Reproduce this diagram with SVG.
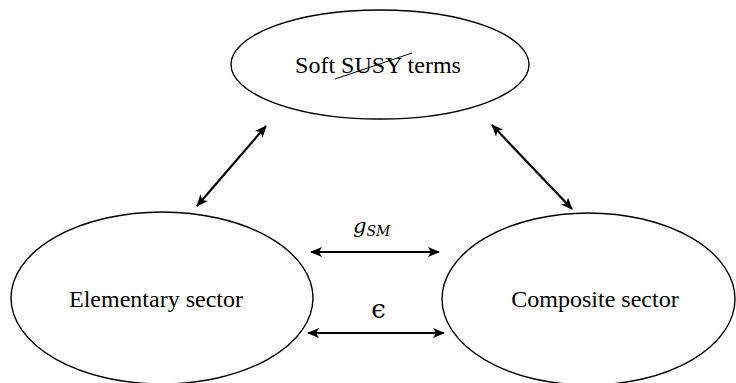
<svg xmlns="http://www.w3.org/2000/svg" width="736" height="383" viewBox="0 0 736 383">
<style>
.node{fill:#fff;stroke:#000;stroke-width:1.4}
.lbl{font-size:24px;fill:#000;text-anchor:middle}
.math{fill:#000}
.edge{stroke:#000;stroke-width:2.2;fill:none;marker-start:url(#ah);marker-end:url(#ah)}
</style>
<defs>
<marker id="ah" viewBox="0 0 12 10" refX="11" refY="5" markerWidth="5.5" markerHeight="4.6" orient="auto-start-reverse" markerUnits="strokeWidth">
<path d="M0,0 L12,5 L0,10 L3,5 Z" fill="#000"/>
</marker>
</defs>
<rect width="736" height="383" fill="#fff"/>
<g id="soft">
<ellipse class="node" cx="380" cy="64.5" rx="149" ry="54.5"/>
<text class="lbl" font-family="Liberation Serif, Times New Roman, DejaVu Serif, serif" x="378" y="73">Soft SUSY terms</text>
<line x1="335" y1="79" x2="412" y2="53" stroke="#000" stroke-width="1"/>
</g>
<g id="elementary">
<ellipse class="node" cx="162" cy="298" rx="151" ry="86"/>
<text class="lbl" font-family="Liberation Serif, Times New Roman, DejaVu Serif, serif" x="156" y="307">Elementary sector</text>
</g>
<g id="composite">
<ellipse class="node" cx="588.5" cy="299" rx="146.5" ry="86"/>
<text class="lbl" font-family="Liberation Serif, Times New Roman, DejaVu Serif, serif" x="595" y="307">Composite sector</text>
</g>
<g id="connectors">
<line class="edge" x1="197" y1="206" x2="266" y2="126"/>
<line class="edge" x1="492" y1="125" x2="572" y2="209"/>
<line class="edge" x1="311" y1="252" x2="439" y2="252"/>
<line class="edge" x1="308" y1="333" x2="444" y2="333"/>
<text class="math" font-family="DejaVu Serif, serif" x="353" y="233" font-size="21" font-style="italic">g<tspan font-size="14" dy="3">SM</tspan></text>
<text class="math" font-family="DejaVu Serif, serif" x="378.5" y="318" font-size="26" text-anchor="middle">ϵ</text>
</g>
</svg>
